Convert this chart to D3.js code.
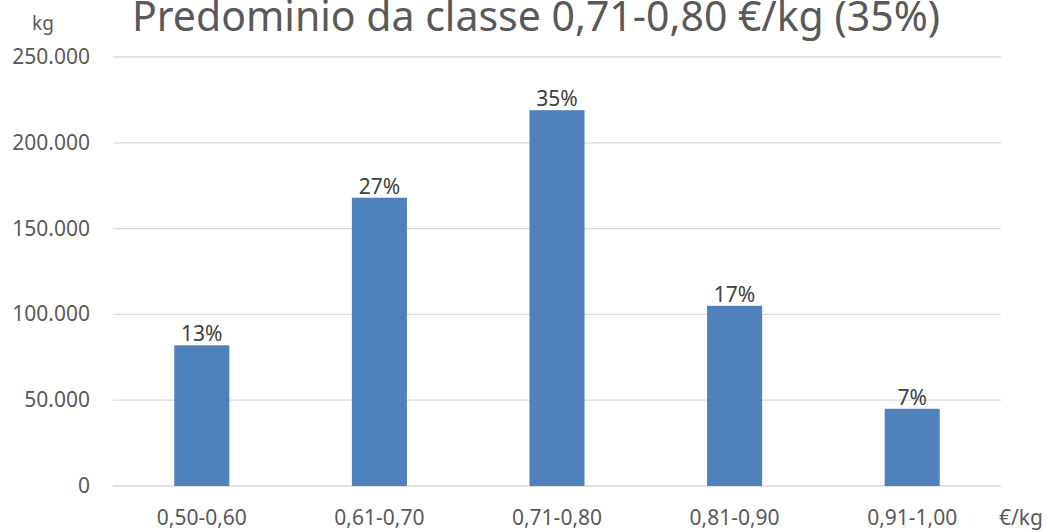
<!DOCTYPE html>
<html>
<head>
<meta charset="utf-8">
<script src="https://cdn.jsdelivr.net/npm/d3@7"></script>
<style>
  body { margin: 0; background: #fff; }
  svg { display: block; font-family: "Noto Sans", sans-serif; }
</style>
</head>
<body>
<script>
// price classes (€/kg) and quantities (kg)
const classes = ["0,50-0,60", "0,61-0,70", "0,71-0,80", "0,81-0,90", "0,91-1,00"]
const quantities = [82000, 168000, 219000, 105000, 45000]
const shares = ["13%", "27%", "35%", "17%", "7%"]
const yTicks = [0, 50000, 100000, 150000, 200000, 250000]

const data = classes.map((c, i) => ({cls: c, kg: quantities[i], pct: shares[i]}))

const outerWidth = 1048, outerHeight = 532
const margin = {left: 113, right: 47, top: 57, bottom: 46}

const svg = d3.select("body").append("svg")
    .attr("width", outerWidth)
    .attr("height", outerHeight)

const x = d3.scaleBand()
    .domain(classes)
    .range([margin.left, outerWidth - margin.right])
    .paddingInner(0.69)
    .paddingOuter(0.345)

const y = d3.scaleLinear()
    .domain([0, 250000])
    .range([outerHeight - margin.bottom, margin.top])

const fmt = d3.formatLocale({decimal: ",", thousands: ".", grouping: [3], currency: ["", "€"]}).format(",d")

// gridlines
svg.append("g")
    .selectAll("line")
    .data(yTicks)
    .join("line")
    .attr("x1", margin.left)
    .attr("x2", outerWidth - margin.right)
    .attr("y1", d => y(d))
    .attr("y2", d => y(d))
    .attr("stroke", "#d9d9d9")
    .attr("stroke-width", 1.3)

// y tick labels
svg.append("g")
    .selectAll("text")
    .data(yTicks)
    .join("text")
    .attr("x", 90)
    .attr("y", d => y(d) + 7)
    .attr("text-anchor", "end")
    .attr("fill", "#595959")
    .style("font-size", "21px")
    .text(d => fmt(d))

// bars
svg.append("g")
    .selectAll("rect")
    .data(data)
    .join("rect")
    .attr("x", d => x(d.cls))
    .attr("width", x.bandwidth())
    .attr("y", d => y(d.kg))
    .attr("height", d => y(0) - y(d.kg))
    .attr("fill", "#4f81bd")

// value labels
svg.append("g")
    .selectAll("text")
    .data(data)
    .join("text")
    .attr("x", d => x(d.cls) + x.bandwidth() / 2)
    .attr("y", d => y(d.kg) - 4)
    .attr("text-anchor", "middle")
    .attr("fill", "#404040")
    .style("font-size", "21px")
    .text(d => d.pct)

// x labels
svg.append("g")
    .selectAll("text")
    .data(classes)
    .join("text")
    .attr("x", d => x(d) + x.bandwidth() / 2)
    .attr("y", 525)
    .attr("text-anchor", "middle")
    .attr("fill", "#595959")
    .style("font-size", "21px")
    .text(d => d)

// axis unit labels
svg.append("text")
    .attr("x", 1021).attr("y", 525)
    .attr("text-anchor", "middle")
    .attr("fill", "#595959")
    .style("font-size", "21px")
    .text("€/kg")

svg.append("text")
    .attr("x", 43).attr("y", 30)
    .attr("text-anchor", "middle")
    .attr("fill", "#595959")
    .style("font-size", "19px")
    .text("kg")

// title
svg.append("text")
    .attr("x", 536).attr("y", 31)
    .attr("text-anchor", "middle")
    .attr("fill", "#595959")
    .style("font-size", "41px")
    .text("Predominio da classe 0,71-0,80 €/kg (35%)")
</script>
</body>
</html>
